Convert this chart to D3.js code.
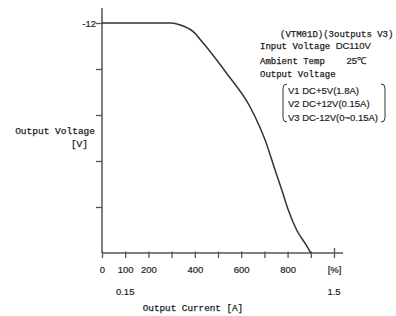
<!DOCTYPE html>
<html>
<head>
<meta charset="utf-8">
<script src="https://cdn.jsdelivr.net/npm/d3@7"></script>
<style>
  body { margin: 0; background: #fff; }
  .mono { font-family: "Liberation Mono", "DejaVu Sans Mono", monospace; fill: #1e1e1e; stroke: #1e1e1e; stroke-width: 0.25px; }
  .sans { font-family: "Liberation Sans", Arial, sans-serif; fill: #1e1e1e; stroke: #1e1e1e; stroke-width: 0.2px; }
</style>
</head>
<body>
<div id="chart"></div>
<script>
// current in percent of rated load, and output voltage of V3
var current = [0, 300, 336, 393, 437, 537, 638, 681, 703, 746, 775, 803, 839, 875, 900];
var voltage = [-12, -12, -11.9, -11.55, -10.94, -9.38, -7.63, -6.55, -5.9, -4.33, -3.29, -2.24, -1.2, -0.51, 0];

var xTicks = [0, 100, 200, 300, 400, 500, 600, 700, 800, 900, 1000];
var xLabels = { 0: "0", 100: "100", 200: "200", 400: "400", 600: "600", 800: "800", 1000: "[%]" };
var ampLabels = [[100, "0.15"], [1000, "1.5"]];
var yTicks = [-12, -9.6, -7.2, -4.8, -2.4];
var yLabels = { "-12": "-12" };

var notes = [
  { x: 280, y: 37, parts: [["mono", "(VTM01D)(3outputs V3)"]] },
  { x: 260, y: 49, parts: [["mono", "Input Voltage "], ["sans", "DC110V"]] },
  { x: 260, y: 64, parts: [["mono", "Ambient Temp    "], ["sans", "25℃"]] },
  { x: 260, y: 77, parts: [["mono", "Output Voltage"]] },
  { x: 288, y: 94, parts: [["sans", "V1 DC+5V(1.8A)"]] },
  { x: 288, y: 107, parts: [["sans", "V2 DC+12V(0.15A)"]] },
  { x: 288, y: 121, parts: [["sans", "V3 DC-12V(0~0.15A)"]] }
];

var W = 396, H = 316;
var x0 = 102, y0 = 253;

var svg = d3.select("#chart").append("svg")
    .attr("width", W)
    .attr("height", H);

var x = d3.scaleLinear().domain([0, 1000]).range([x0, 334]);
var y = d3.scaleLinear().domain([0, -12]).range([y0, 23]);

// x axis
var xAxis = svg.append("g")
    .attr("transform", "translate(0," + y0 + ")")
    .call(d3.axisBottom(x).tickValues(xTicks).tickSize(5).tickSizeOuter(0)
        .tickFormat(function(d) { return xLabels[d] || ""; }));
xAxis.select(".domain").remove();
xAxis.append("line")
    .attr("x1", x0).attr("x2", 343)
    .attr("stroke", "#555").attr("stroke-width", 1.5);
xAxis.selectAll(".tick line").attr("stroke", "#555").attr("stroke-width", 1.3).attr("y1", -1.5);
xAxis.selectAll(".tick").filter(function(d) { return d === 1000; })
    .select("line").attr("y1", -5);
xAxis.selectAll(".tick text")
    .attr("class", "sans")
    .attr("y", 13)
    .style("font-size", "9.5px");

// y axis
var yAxis = svg.append("g")
    .attr("transform", "translate(" + x0 + ",0)")
    .call(d3.axisLeft(y).tickValues(yTicks).tickSize(6).tickSizeOuter(0)
        .tickFormat(function(d) { return yLabels[String(d)] || ""; }));
yAxis.select(".domain").remove();
yAxis.append("line")
    .attr("y1", 8).attr("y2", y0)
    .attr("stroke", "#555").attr("stroke-width", 1.5);
yAxis.selectAll(".tick line").attr("stroke", "#555").attr("stroke-width", 1.3);
yAxis.selectAll(".tick text")
    .attr("class", "sans")
    .attr("x", -6)
    .style("font-size", "9.5px");

// secondary current labels in ampere
svg.selectAll(".amp")
    .data(ampLabels)
    .enter().append("text")
    .attr("class", "sans")
    .attr("x", function(d) { return x(d[0]); })
    .attr("y", 295)
    .attr("text-anchor", "middle")
    .style("font-size", "9.5px")
    .text(function(d) { return d[1]; });

// curve
var line = d3.line()
    .x(function(d, i) { return x(current[i]); })
    .y(function(d, i) { return y(voltage[i]); })
    .curve(d3.curveMonotoneX);

svg.append("path")
    .datum(current)
    .attr("d", line)
    .attr("fill", "none")
    .attr("stroke", "#333")
    .attr("stroke-width", 1.5);

// axis titles
svg.append("text")
    .attr("class", "mono")
    .attr("x", 95).attr("y", 134)
    .attr("text-anchor", "end")
    .style("font-size", "9.5px")
    .text("Output Voltage");
svg.append("text")
    .attr("class", "mono")
    .attr("x", 88).attr("y", 147)
    .attr("text-anchor", "end")
    .style("font-size", "9.5px")
    .text("[V]");
svg.append("text")
    .attr("class", "mono")
    .attr("x", 193).attr("y", 311)
    .attr("text-anchor", "middle")
    .style("font-size", "9.3px")
    .text("Output Current [A]");

// notes
notes.forEach(function(n) {
    var t = svg.append("text").attr("x", n.x).attr("y", n.y);
    n.parts.forEach(function(p) {
        t.append("tspan")
            .attr("class", p[0])
            .style("font-size", p[0] === "mono" ? "9px" : "9.5px")
            .style("white-space", "pre")
            .text(p[1]);
    });
    t.attr("xml:space", "preserve");
});

// brackets around the output list
svg.append("path")
    .attr("d", "M287,84 Q283,84 283,88 L283,118 Q283,122 287,122")
    .attr("fill", "none").attr("stroke", "#333").attr("stroke-width", 1);
svg.append("path")
    .attr("d", "M381,84 Q385,84 385,88 L385,118 Q385,122 381,122")
    .attr("fill", "none").attr("stroke", "#333").attr("stroke-width", 1);
</script>
</body>
</html>
